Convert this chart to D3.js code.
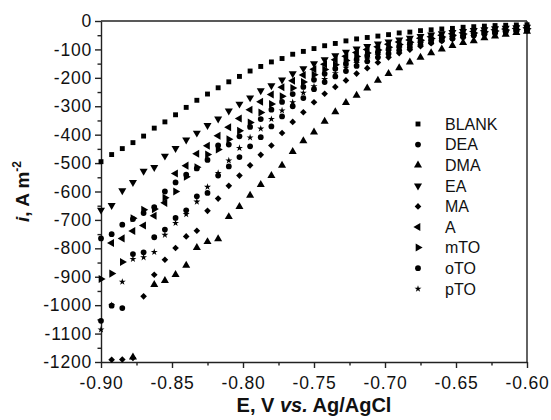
<!DOCTYPE html>
<html>
<head>
<meta charset="utf-8">
<script src="https://cdn.jsdelivr.net/npm/d3@7"></script>
<style>
  body { margin: 0; background: #fff; }
  text { font-family: Arial, "Liberation Sans", sans-serif; }
</style>
</head>
<body>
<script>
const w = 551, h = 420;

// potential, V vs. Ag/AgCl
const potentials = [-0.9, -0.8925, -0.885, -0.8775, -0.87, -0.8625, -0.855, -0.8475, -0.84, -0.8325,
  -0.825, -0.8175, -0.81, -0.8025, -0.795, -0.7875, -0.78, -0.7725, -0.765, -0.7575,
  -0.75, -0.7425, -0.735, -0.7275, -0.72, -0.7125, -0.705, -0.6975, -0.69, -0.6825,
  -0.675, -0.6675, -0.66, -0.6525, -0.645, -0.6375, -0.63, -0.6225, -0.615, -0.6075, -0.6];

// current density, A m-2
const blank = [-495, -470, -449, -428, -405, -377, -355, -330, -304, -279,
  -257, -235, -214, -195, -176, -160, -144, -132, -117, -107,
  -97, -87, -79, -70, -63, -58, -53, -48, -42, -39,
  -34, -31, -28, -26, -22, -20, -18, -16, -15, -14, -13];
const dea = [-765, -750, -717, -697, -676, -655, -600, -568, -541, -519,
  -489, -438, -435, -406, -373, -345, -312, -285, -257, -232,
  -207, -186, -168, -151, -136, -122, -110, -99, -89, -80,
  -72, -65, -59, -53, -48, -44, -40, -36, -33, -31, -28];
const dma = [null, null, null, -1183, null, -928, -914, -893, -860, -798,
  -777, -767, -689, -653, -614, -576, -544, -508, -460, -422,
  -391, -353, -320, -287, -262, -236, -209, -185, -165, -145,
  -128, -112, -99, -87, -76, -70, -60, -53, -47, -41, -37];
const ea = [-665, -649, -597, -568, -528, -515, -475, -448, -418, -394,
  -367, -344, -316, -292, -270, -245, -227, -207, -185, -167,
  -150, -136, -122, -109, -98, -89, -80, -73, -66, -60,
  -54, -49, -44, -40, -36, -33, -30, -27, -25, -23, -21];
const ma = [null, -1192, -1191, -1186, -969, -893, -840, -799, -758, -738,
  -668, -625, -580, -544, -508, -471, -438, -394, -355, -321,
  -286, -256, -232, -209, -185, -166, -146, -128, -113, -101,
  -89, -78, -70, -63, -57, -51, -46, -42, -38, -35, -32];
const an = [null, -781, -765, -739, -720, -685, -640, -537, -509, -467,
  -439, -404, -374, -343, -312, -284, -259, -233, -210, -190,
  -170, -152, -136, -124, -111, -100, -91, -82, -74, -67,
  -61, -55, -50, -45, -41, -37, -34, -31, -28, -26, -24];
const mto = [-908, -889, -848, -694, -664, -662, -622, -600, -548, -515,
  -470, -452, -416, -386, -357, -322, -292, -265, -236, -215,
  -189, -171, -154, -139, -125, -113, -102, -92, -83, -75,
  -68, -62, -56, -50, -46, -42, -38, -35, -32, -30, -27];
const oto = [-1055, -1002, -1010, -820, -814, -761, -734, -693, -666, -617,
  -605, -544, -512, -479, -441, -409, -371, -336, -300, -271,
  -240, -215, -195, -176, -158, -142, -128, -115, -103, -93,
  -84, -76, -69, -62, -56, -51, -47, -43, -39, -36, -33];
const pto = [-1086, -1000, -918, -838, -832, -813, -753, -711, -680, -636,
  -584, -535, -491, -447, -410, -379, -345, -315, -286, -253,
  -230, -205, -184, -165, -148, -133, -120, -108, -97, -87,
  -79, -71, -64, -58, -53, -48, -44, -40, -37, -34, -31];

const names = ['BLANK', 'DEA', 'DMA', 'EA', 'MA', 'A', 'mTO', 'oTO', 'pTO'];
const values = [blank, dea, dma, ea, ma, an, mto, oto, pto];

const xTicks = [-0.9, -0.85, -0.8, -0.75, -0.7, -0.65, -0.6];
const yTicks = [0, -100, -200, -300, -400, -500, -600, -700, -800, -900, -1000, -1100, -1200];

// marker look per series
const marks = [
  {type: d3.symbolSquare, size: 24, rot: 0},
  {type: d3.symbolCircle, size: 26, rot: 0},
  {type: d3.symbolTriangle, size: 28, rot: 0},
  {type: d3.symbolTriangle, size: 28, rot: 180},
  {type: d3.symbolSquare, size: 22, rot: 45},
  {type: d3.symbolTriangle, size: 28, rot: -90},
  {type: d3.symbolTriangle, size: 28, rot: 90},
  {type: d3.symbolCircle, size: 26, rot: 0},
  {type: d3.symbolStar, size: 15, rot: 0}
];

const padL = 101, padR = 527, padT = 21, padB = 362;

const svg = d3.select('body').append('svg')
  .attr('width', w)
  .attr('height', h);

const xScale = d3.scaleLinear().domain([-0.9, -0.6]).range([padL, padR]);
const yScale = d3.scaleLinear().domain([-1200, 0]).range([padB, padT]);

// minor ticks first
svg.append('g')
  .attr('transform', `translate(0, ${padB})`)
  .call(d3.axisBottom(xScale).tickValues(d3.range(-0.875, -0.6, 0.05)).tickSize(3.5).tickFormat(''))
  .call(g => g.select('.domain').remove());
svg.append('g')
  .attr('transform', `translate(${padL}, 0)`)
  .call(d3.axisLeft(yScale).tickValues(d3.range(-1150, 0, 100)).tickSize(3.5).tickFormat(''))
  .call(g => g.select('.domain').remove());

const xAxis = svg.append('g')
  .attr('transform', `translate(0, ${padB})`)
  .call(d3.axisBottom(xScale).tickValues(xTicks).tickSize(6).tickSizeOuter(0).tickFormat(d => d.toFixed(2)));
xAxis.selectAll('text').attr('font-size', '17.5px').attr('letter-spacing', '0.8px').attr('dy', '1.05em');

const yAxis = svg.append('g')
  .attr('transform', `translate(${padL}, 0)`)
  .call(d3.axisLeft(yScale).tickValues(yTicks).tickSize(6).tickSizeOuter(0).tickFormat(d => String(d)));
yAxis.selectAll('text').attr('font-size', '17.5px').attr('letter-spacing', '0.8px').attr('x', -9);

svg.selectAll('.domain, .tick line').attr('stroke', '#222').attr('stroke-width', 1.4);
svg.selectAll('.tick text').attr('fill', '#111').attr('font-family', 'Arial, "Liberation Sans", sans-serif');

// frame top and right
svg.append('line').attr('x1', padL).attr('x2', padR).attr('y1', padT).attr('y2', padT)
  .attr('stroke', '#222').attr('stroke-width', 1.4);
svg.append('line').attr('x1', padR).attr('x2', padR).attr('y1', padT).attr('y2', padB)
  .attr('stroke', '#222').attr('stroke-width', 1.4);

// points
values.forEach((vals, k) => {
  const m = marks[k];
  const pts = vals.map((v, i) => [potentials[i], v]).filter(d => d[1] !== null);
  svg.append('g').attr('class', 'series')
    .selectAll('path')
    .data(pts)
    .enter()
    .append('path')
    .attr('d', d3.symbol().type(m.type).size(m.size))
    .attr('transform', d => `translate(${xScale(d[0])}, ${yScale(d[1])}) rotate(${m.rot})`)
    .attr('fill', '#000');
});

// legend
const legend = svg.append('g');
names.forEach((n, k) => {
  const m = marks[k];
  const ly = 124 + k * 20.6;
  legend.append('path')
    .attr('d', d3.symbol().type(m.type).size(m.size))
    .attr('transform', `translate(418, ${ly}) rotate(${m.rot})`)
    .attr('fill', '#000');
  legend.append('text')
    .attr('x', 445).attr('y', ly).attr('dy', '0.36em')
    .attr('font-size', '16px').attr('fill', '#111')
    .text(n);
});

// axis titles
const xt = svg.append('text')
  .attr('x', 314).attr('y', 412)
  .attr('text-anchor', 'middle')
  .attr('font-size', '20px').attr('font-weight', 'bold').attr('fill', '#111');
xt.append('tspan').text('E, V ');
xt.append('tspan').attr('font-style', 'italic').text('vs.');
xt.append('tspan').text(' Ag/AgCl');

const yt = svg.append('text')
  .attr('transform', `translate(29, ${(padT + padB) / 2}) rotate(-90)`)
  .attr('text-anchor', 'middle')
  .attr('font-size', '19px').attr('font-weight', 'bold').attr('fill', '#111');
yt.append('tspan').attr('font-style', 'italic').text('i');
yt.append('tspan').text(', A m');
yt.append('tspan').attr('font-size', '12px').attr('dy', '-8').text('-2');
</script>
</body>
</html>
